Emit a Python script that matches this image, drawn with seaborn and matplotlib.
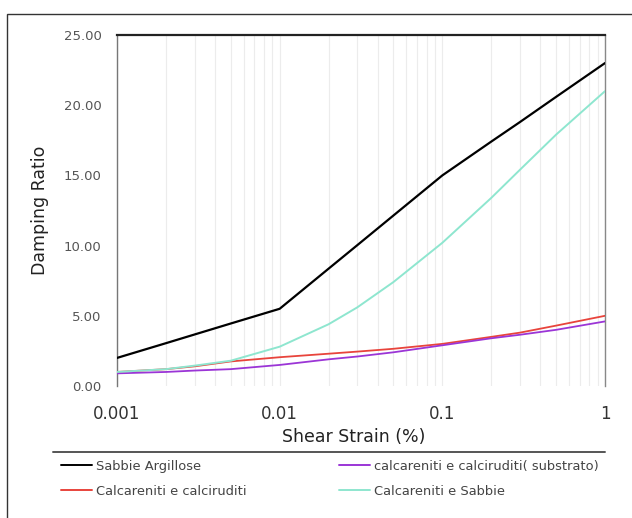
import numpy as np
import pandas as pd
import matplotlib
matplotlib.use("Agg")
import matplotlib.pyplot as plt
from matplotlib.lines import Line2D
from matplotlib.patches import Rectangle
from matplotlib.ticker import FixedLocator, FixedFormatter, NullFormatter, LogLocator
import seaborn as sns

# ---- data ----
strain = [0.001, 0.002, 0.003, 0.005, 0.01, 0.02, 0.03, 0.05, 0.1, 0.2, 0.3, 0.5, 1.0]
sabbie_argillose = [2.0, 3.05, 3.67, 4.45, 5.5, 8.36, 10.03, 12.14, 15.0, 17.41, 18.8, 20.59, 23.0]
calc_calciruditi = [1.0, 1.2, 1.4, 1.75, 2.05, 2.3, 2.45, 2.65, 3.0, 3.5, 3.8, 4.3, 5.0]
calc_substrato = [0.9, 1.0, 1.1, 1.2, 1.5, 1.9, 2.1, 2.4, 2.9, 3.4, 3.65, 4.0, 4.6]
calc_sabbie = [1.0, 1.2, 1.45, 1.8, 2.8, 4.4, 5.6, 7.4, 10.2, 13.4, 15.4, 17.9, 21.0]

series_names = ["Sabbie Argillose", "Calcareniti e calciruditi",
                "calcareniti e calciruditi( substrato)", "Calcareniti e Sabbie"]
series_values = [sabbie_argillose, calc_calciruditi, calc_substrato, calc_sabbie]
colors = ["#000000", "#E8443C", "#9B35D6", "#8EE6CF"]
widths = [1.6, 1.3, 1.3, 1.4]

y_ticks = [0, 5, 10, 15, 20, 25]
x_ticks = [0.001, 0.01, 0.1, 1]
x_tick_labels = ["0.001", "0.01", "0.1", "1"]

rows = []
for name, vals in zip(series_names, series_values):
    for s, v in zip(strain, vals):
        rows.append({"strain": s, "damping": v, "series": name})
df = pd.DataFrame(rows)

sns.set_style("white")
plt.rcParams["font.family"] = ["DejaVu Sans"]

fig = plt.figure(figsize=(6.32, 5.18), dpi=100)
fig.patch.set_facecolor("white")
W, H = 632, 518
ax = fig.add_axes([117 / W, 1 - 386 / H, (605 - 117) / W, (386 - 35) / H])

palette = dict(zip(series_names, colors))
sns.lineplot(data=df, x="strain", y="damping", hue="series", palette=palette,
             hue_order=series_names, ax=ax, legend=False, estimator=None, sort=True)
for line, lw in zip(ax.get_lines(), widths):
    line.set_linewidth(lw)
    line.set_zorder(3)
    line.set_solid_joinstyle("round")
ax.get_lines()[0].set_zorder(5)

ax.set_xscale("log")
ax.set_xlim(0.001, 1)
ax.set_ylim(0, 25)
ax.xaxis.set_major_locator(FixedLocator(x_ticks))
ax.xaxis.set_major_formatter(FixedFormatter(x_tick_labels))
ax.xaxis.set_minor_locator(LogLocator(base=10, subs=np.arange(2, 10)))
ax.xaxis.set_minor_formatter(NullFormatter())
ax.set_yticks(y_ticks)
ax.set_yticklabels([f"{v:.2f}" for v in y_ticks])

ax.grid(False)
ax.grid(True, which="both", axis="x", color="#ececec", linewidth=0.8)
ax.tick_params(axis="x", which="both", length=0, pad=14, labelsize=12, labelcolor="#333333")
ax.tick_params(axis="y", length=0, pad=11, labelsize=9.5, labelcolor="#555555")

for side in ["top", "left", "right", "bottom"]:
    ax.spines[side].set_visible(True)
ax.spines["top"].set_color("#222222")
ax.spines["top"].set_linewidth(1.6)
ax.spines["left"].set_color("#777777")
ax.spines["left"].set_linewidth(1.0)
ax.spines["right"].set_color("#888888")
ax.spines["right"].set_linewidth(1.0)
ax.spines["bottom"].set_visible(False)

ax.set_xlabel("Shear Strain (%)", fontsize=12.5, color="#222222")
ax.xaxis.set_label_coords((354 - 117) / (605 - 117), -(437 - 386) / (386 - 35))
ax.xaxis.label.set_va("center")
ax.set_ylabel("Damping Ratio", fontsize=12.5, color="#222222")
ax.yaxis.set_label_coords(-(117 - 40) / (605 - 117), 0.5)
ax.yaxis.label.set_va("center")

# outer frame (cropped at right and bottom)
fig.add_artist(Rectangle((7 / W, -0.1), 1.2, 1 - 14 / H + 0.1, transform=fig.transFigure,
                         fill=False, edgecolor="#333333", linewidth=1.0))
# separator line above legend
fig.add_artist(Line2D([53 / W, 605 / W], [1 - 452 / H, 1 - 452 / H], transform=fig.transFigure,
                      color="#555555", linewidth=1.4))

handles = [Line2D([], [], color=c, linewidth=1.4) for c in colors]
leg_kw = dict(frameon=False, fontsize=9.4, handlelength=2.4, handletextpad=0.25,
              labelspacing=0.9, borderaxespad=0, borderpad=0, labelcolor="#444444")
leg1 = fig.legend(handles[:2], series_names[:2], loc="upper left",
                  bbox_to_anchor=(61 / W, 1 - 460 / H), **leg_kw)
leg2 = fig.legend(handles[2:], series_names[2:], loc="upper left",
                  bbox_to_anchor=(339 / W, 1 - 460 / H), **leg_kw)

fig.savefig("out.png", dpi=100, facecolor="white")
